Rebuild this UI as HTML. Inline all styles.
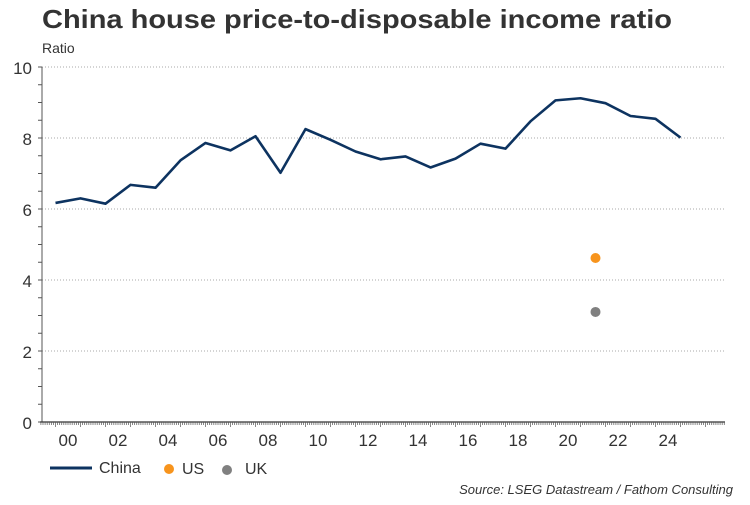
<!DOCTYPE html>
<html><head><meta charset="utf-8"><style>
body{margin:0;background:#fff;font-family:"Liberation Sans",Arial,sans-serif;}
svg text{font-family:"Liberation Sans",Arial,sans-serif;}
</style></head><body>
<svg id="chart" width="750" height="500">
<text x="42" y="28" font-size="26" font-weight="bold" fill="#333" textLength="630" lengthAdjust="spacingAndGlyphs">China house price-to-disposable income ratio</text>
<text x="42" y="53" font-size="14" fill="#333">Ratio</text>
<g id="grid"></g><g id="axes"></g><g id="series"></g>
<g>
<line x1="50" y1="468" x2="92" y2="468" stroke="#0d3360" stroke-width="3"/>
<text x="99" y="473" font-size="16" fill="#333">China</text>
<circle cx="169" cy="469" r="5" fill="#f7941d"/>
<text x="182" y="474" font-size="16" fill="#333">US</text>
<circle cx="227" cy="470" r="5" fill="#808080"/>
<text x="245" y="474" font-size="16" fill="#333">UK</text>
</g>
<text x="733" y="494" font-size="13" font-style="italic" fill="#333" text-anchor="end">Source: LSEG Datastream / Fathom Consulting</text>
</svg>
<script>
const years=[2000,2001,2002,2003,2004,2005,2006,2007,2008,2009,2010,2011,2012,2013,2014,2015,2016,2017,2018,2019,2020,2021,2022,2023,2024,2025];
const china=[6.17,6.3,6.15,6.68,6.6,7.37,7.86,7.65,8.05,7.02,8.25,7.95,7.62,7.4,7.48,7.17,7.42,7.84,7.7,8.47,9.06,9.12,8.98,8.62,8.54,8.01];
const usPoint=[2021.6,4.62];
const ukPoint=[2021.6,3.1];
const yTicks=[0,2,4,6,8,10];
const xLabels=["00","02","04","06","08","10","12","14","16","18","20","22","24"];
const NS="http://www.w3.org/2000/svg";
const X=y=>55.5+(y-2000)*25;
const Y=v=>422-v*35.5;
function mk(t,a,p){const e=document.createElementNS(NS,t);for(const k in a)e.setAttribute(k,a[k]);p.appendChild(e);return e;}
const grid=document.getElementById('grid'),axes=document.getElementById('axes'),ser=document.getElementById('series');
yTicks.forEach(v=>{
 if(v>0){const g=mk('line',{x1:42,x2:725,y1:Y(v),y2:Y(v),stroke:'#aaa','stroke-dasharray':'1,2'},grid);
 
 }
 const t=mk('text',{x:32,y:Y(v)+7,'font-size':17,fill:'#333','text-anchor':'end'},axes);t.textContent=v;
 
 
});
const ya=mk('line',{x1:42,x2:42,y1:Y(10),y2:Y(0),stroke:'#555'},axes);


for(let v=0;v<=10;v+=0.5){mk('line',{x1:38,x2:42,y1:Y(v),y2:Y(v),stroke:'#555'},axes);}
const xa=mk('line',{x1:40,x2:725,y1:422,y2:422,stroke:'#333','stroke-width':1.2},axes);


for(let m=0;;m++){const x=X(1999+m/12);if(x>725)break;if(x<40)continue;mk('line',{x1:x,x2:x,y1:422,y2:m%12==0?427:425,stroke:'#555','stroke-width':0.7},axes);}
xLabels.forEach((l,i)=>{const t=mk('text',{x:X(2000+i*2+0.5),y:446,'font-size':17,fill:'#333','text-anchor':'middle'},axes);t.textContent=l;
 
 });
const p=mk('polyline',{points:years.map((y,i)=>X(y)+','+Y(china[i])).join(' '),fill:'none',stroke:'#0d3360','stroke-width':2.6,'stroke-linejoin':'round'},ser);


const us=mk('circle',{cx:X(usPoint[0]),cy:Y(usPoint[1]),r:5,fill:'#f7941d'},ser);


const uk=mk('circle',{cx:X(ukPoint[0]),cy:Y(ukPoint[1]),r:5,fill:'#808080'},ser);


</script>
</body></html>
